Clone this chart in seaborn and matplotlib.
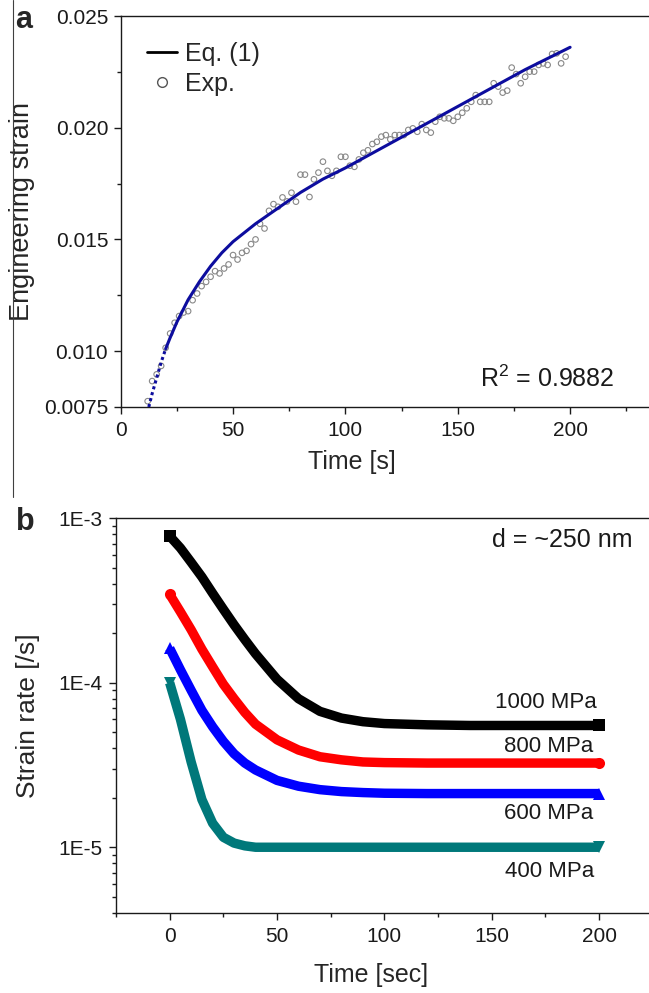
import numpy as np
import pandas as pd
import matplotlib
matplotlib.use("Agg")
import matplotlib.pyplot as plt
import seaborn as sns
from matplotlib.lines import Line2D
from matplotlib.ticker import MultipleLocator, FixedLocator, FuncFormatter, LogLocator, NullFormatter

# ---------------- data: panel a ----------------
exp_time = [12, 14, 16, 18, 20, 22, 24, 26, 28, 30, 32, 34, 36, 38, 40, 42, 44, 46, 48, 50,
            52, 54, 56, 58, 60, 62, 64, 66, 68, 70, 72, 74, 76, 78, 80, 82, 84, 86, 88, 90,
            92, 94, 96, 98, 100, 102, 104, 106, 108, 110, 112, 114, 116, 118, 120, 122, 124, 126, 128, 130,
            132, 134, 136, 138, 140, 142, 144, 146, 148, 150, 152, 154, 156, 158, 160, 162, 164, 166, 168, 170,
            172, 174, 176, 178, 180, 182, 184, 186, 188, 190, 192, 194, 196, 198]
exp_strain = [0.00776, 0.00866, 0.00896, 0.00934, 0.01015, 0.01079, 0.01127, 0.01157, 0.01173, 0.01179,
              0.01228, 0.01258, 0.01291, 0.01310, 0.01333, 0.01358, 0.01348, 0.01370, 0.01388, 0.01430,
              0.01410, 0.01440, 0.01449, 0.01479, 0.01500, 0.01570, 0.01549, 0.01628, 0.01658, 0.01646,
              0.01688, 0.01670, 0.01709, 0.01669, 0.01790, 0.01790, 0.01690, 0.01769, 0.01799, 0.01848,
              0.01807, 0.01785, 0.01807, 0.01870, 0.01870, 0.01830, 0.01825, 0.01858, 0.01888, 0.01899,
              0.01927, 0.01937, 0.01960, 0.01967, 0.01948, 0.01967, 0.01967, 0.01967, 0.01990, 0.01997,
              0.01982, 0.02016, 0.01990, 0.01978, 0.02027, 0.02049, 0.02042, 0.02042, 0.02031, 0.02049,
              0.02067, 0.02087, 0.02116, 0.02146, 0.02116, 0.02116, 0.02116, 0.02199, 0.02184, 0.02157,
              0.02166, 0.02269, 0.02240, 0.02199, 0.02228, 0.02251, 0.02251, 0.02281, 0.02288, 0.02281,
              0.02330, 0.02333, 0.02288, 0.02318]
fit_time = [12.5, 14, 16, 18, 20, 22, 25, 30, 35, 40, 45, 50, 60, 70, 80, 90, 100, 120, 140, 160, 180, 200]
fit_strain = [0.0075, 0.0081, 0.0088, 0.0095, 0.0101, 0.0106, 0.0113, 0.0123, 0.0131, 0.0138, 0.0144,
              0.0149, 0.0157, 0.0164, 0.0171, 0.0177, 0.0182, 0.0193, 0.0204, 0.0215, 0.0226, 0.0236]

# ---------------- data: panel b ----------------
time_b = [0, 5, 10, 15, 20, 25, 30, 35, 40, 50, 60, 70, 80, 90, 100, 120, 140, 160, 180, 200]
rate_1000 = [7.8e-4, 6.6e-4, 5.4e-4, 4.4e-4, 3.5e-4, 2.8e-4, 2.25e-4, 1.83e-4, 1.5e-4, 1.05e-4,
             8.0e-5, 6.7e-5, 6.1e-5, 5.8e-5, 5.65e-5, 5.55e-5, 5.5e-5, 5.5e-5, 5.5e-5, 5.5e-5]
rate_800 = [3.45e-4, 2.7e-4, 2.1e-4, 1.6e-4, 1.25e-4, 9.8e-5, 8.0e-5, 6.6e-5, 5.6e-5, 4.5e-5,
            3.9e-5, 3.55e-5, 3.4e-5, 3.3e-5, 3.27e-5, 3.25e-5, 3.25e-5, 3.25e-5, 3.25e-5, 3.25e-5]
rate_600 = [1.62e-4, 1.2e-4, 9.0e-5, 6.8e-5, 5.4e-5, 4.4e-5, 3.7e-5, 3.25e-5, 2.95e-5, 2.55e-5,
            2.35e-5, 2.24e-5, 2.18e-5, 2.15e-5, 2.13e-5, 2.12e-5, 2.12e-5, 2.12e-5, 2.12e-5, 2.12e-5]
rate_400 = [1.0e-4, 6.0e-5, 3.3e-5, 1.95e-5, 1.4e-5, 1.15e-5, 1.06e-5, 1.02e-5, 1.0e-5, 1.0e-5,
            1.0e-5, 1.0e-5, 1.0e-5, 1.0e-5, 1.0e-5, 1.0e-5, 1.0e-5, 1.0e-5, 1.0e-5, 1.0e-5]
stress_labels = ["1000 MPa", "800 MPa", "600 MPa", "400 MPa"]
series_colors = ["#000000", "#ff0000", "#0000ff", "#00787a"]
series_markers = ["s", "o", "^", "v"]

# ---------------- style ----------------
sns.set_style("ticks")
plt.rcParams["font.family"] = ["Liberation Sans", "DejaVu Sans"]
plt.rcParams["mathtext.fontset"] = "custom"
plt.rcParams["mathtext.rm"] = "Liberation Sans"
plt.rcParams["mathtext.it"] = "Liberation Sans:italic"
plt.rcParams["axes.linewidth"] = 1.0
plt.rcParams["axes.edgecolor"] = "#1a1a1a"
for a in ("xtick", "ytick"):
    plt.rcParams[f"{a}.direction"] = "out"
    plt.rcParams[f"{a}.major.size"] = 5
    plt.rcParams[f"{a}.minor.size"] = 3
    plt.rcParams[f"{a}.major.width"] = 1.0
    plt.rcParams[f"{a}.minor.width"] = 1.0
    plt.rcParams[f"{a}.labelsize"] = 15
    plt.rcParams[f"{a}.color"] = "#1a1a1a"

W, H = 649, 993
fig = plt.figure(figsize=(W / 100, H / 100), dpi=100)

# ================= panel a =================
ax1 = fig.add_axes([120.7 / W, 1 - 407 / H, (651 - 120.7) / W, (407 - 16) / H])
sns.scatterplot(x=exp_time, y=exp_strain, ax=ax1, marker="o", s=16,
                facecolor="none", edgecolor="#888888", linewidth=0.8, zorder=2)
n_dot = 5
sns.lineplot(x=fit_time[:n_dot], y=fit_strain[:n_dot], ax=ax1, color="#0d0d9e",
             lw=2.2, linestyle=(0, (1, 1)), zorder=3)
sns.lineplot(x=fit_time[n_dot - 1:], y=fit_strain[n_dot - 1:], ax=ax1, color="#0d0d9e",
             lw=2.2, zorder=3, solid_joinstyle="round")
ax1.set_xlim(0, 236)
ax1.set_ylim(0.0075, 0.025)
ax1.xaxis.set_major_locator(MultipleLocator(50))
ax1.xaxis.set_minor_locator(MultipleLocator(25))
ax1.yaxis.set_major_locator(FixedLocator([0.0075, 0.010, 0.015, 0.020, 0.025]))
ax1.yaxis.set_minor_locator(FixedLocator([0.0125, 0.0175, 0.0225]))
ax1.yaxis.set_major_formatter(FuncFormatter(lambda v, p: "0.0075" if abs(v - 0.0075) < 1e-6 else f"{v:.3f}"))
ax1.tick_params(axis="x", which="major", pad=5)
ax1.tick_params(axis="y", which="major", pad=4)
for s in ("top", "right"):
    ax1.spines[s].set_visible(True)
ax1.set_xlabel("Time [s]", fontsize=18)
ax1.set_ylabel("Engineering strain", fontsize=19.5)
ax1.xaxis.label.set_va("center")
ax1.yaxis.label.set_va("center")
ax1.xaxis.set_label_coords(0.435, -0.14)
ax1.yaxis.set_label_coords(-0.186, 0.5)

handles = [Line2D([], [], color="black", lw=2),
           Line2D([], [], marker="o", ls="none", mfc="none", mec="#555555", ms=7, mew=1)]
ax1.legend(handles, ["Eq. (1)", "Exp."], loc="upper left", frameon=False, fontsize=18,
           handlelength=1.2, handletextpad=0.35, labelspacing=0.25,
           bbox_to_anchor=(0.03, 0.96), borderaxespad=0.0)
ax1.text(219.7, 0.00839, "R$^2$ = 0.9882", fontsize=18, ha="right", va="baseline", color="#1a1a1a")

# ================= panel b =================
ax2 = fig.add_axes([116 / W, 1 - 912.7 / H, (652.8 - 116) / W, (912.7 - 518.3) / H])
rows = []
for lab, vals in zip(stress_labels, [rate_1000, rate_800, rate_600, rate_400]):
    for t, v in zip(time_b, vals):
        rows.append({"time": t, "rate": v, "stress": lab})
df_b = pd.DataFrame(rows)
sns.lineplot(data=df_b, x="time", y="rate", hue="stress", style="stress",
             hue_order=stress_labels, style_order=stress_labels,
             palette=dict(zip(stress_labels, series_colors)),
             markers=dict(zip(stress_labels, series_markers)), dashes=False,
             lw=6.8, markersize=8, markeredgewidth=0, estimator=None, sort=False,
             markevery=[0, len(time_b) - 1], solid_capstyle="butt", solid_joinstyle="round",
             legend=False, ax=ax2)
ax2.set_yscale("log")
ax2.set_xlim(-25, 225)
ax2.set_ylim(4e-6, 1e-3)
ax2.xaxis.set_major_locator(MultipleLocator(50))
ax2.xaxis.set_minor_locator(MultipleLocator(25))
ax2.yaxis.set_major_locator(LogLocator(base=10, numticks=10))
ax2.yaxis.set_minor_locator(LogLocator(base=10, subs=np.arange(2, 10), numticks=20))
ax2.yaxis.set_minor_formatter(NullFormatter())
ax2.yaxis.set_major_formatter(FuncFormatter(lambda v, p: f"1E{int(round(np.log10(v)))}"))
ax2.tick_params(axis="x", which="major", pad=5)
ax2.tick_params(axis="y", which="major", pad=5)
ax2.set_xlabel("Time [sec]", fontsize=18)
ax2.set_ylabel("Strain rate [/s]", fontsize=19)
ax2.xaxis.label.set_va("center")
ax2.yaxis.label.set_va("center")
ax2.xaxis.set_label_coords(0.475, -0.158)
ax2.yaxis.set_label_coords(-0.164, 0.5)

label_pos = {"1000 MPa": (199, 7.55e-5), "800 MPa": (197.3, 4.07e-5),
             "600 MPa": (197.2, 1.6e-5), "400 MPa": (197.5, 7.16e-6)}
for lab in stress_labels:
    x, y = label_pos[lab]
    ax2.text(x, y, lab, fontsize=16, ha="right", va="center", color="#1a1a1a")
ax2.text(150.3, 7.38e-4, "d = ~250 nm", fontsize=18, ha="left", va="center", color="#1a1a1a")

# panel letters and left rule
fig.text(15 / W, 1 - 28 / H, "a", fontsize=22, fontweight="bold", ha="left", va="baseline")
fig.text(16 / W, 1 - 530 / H, "b", fontsize=22, fontweight="bold", ha="left", va="baseline")
fig.add_artist(Line2D([12.5 / W, 12.5 / W], [1, 1 - 497 / H], color="#404040", lw=0.8))

fig.savefig("out.png", dpi=100)
